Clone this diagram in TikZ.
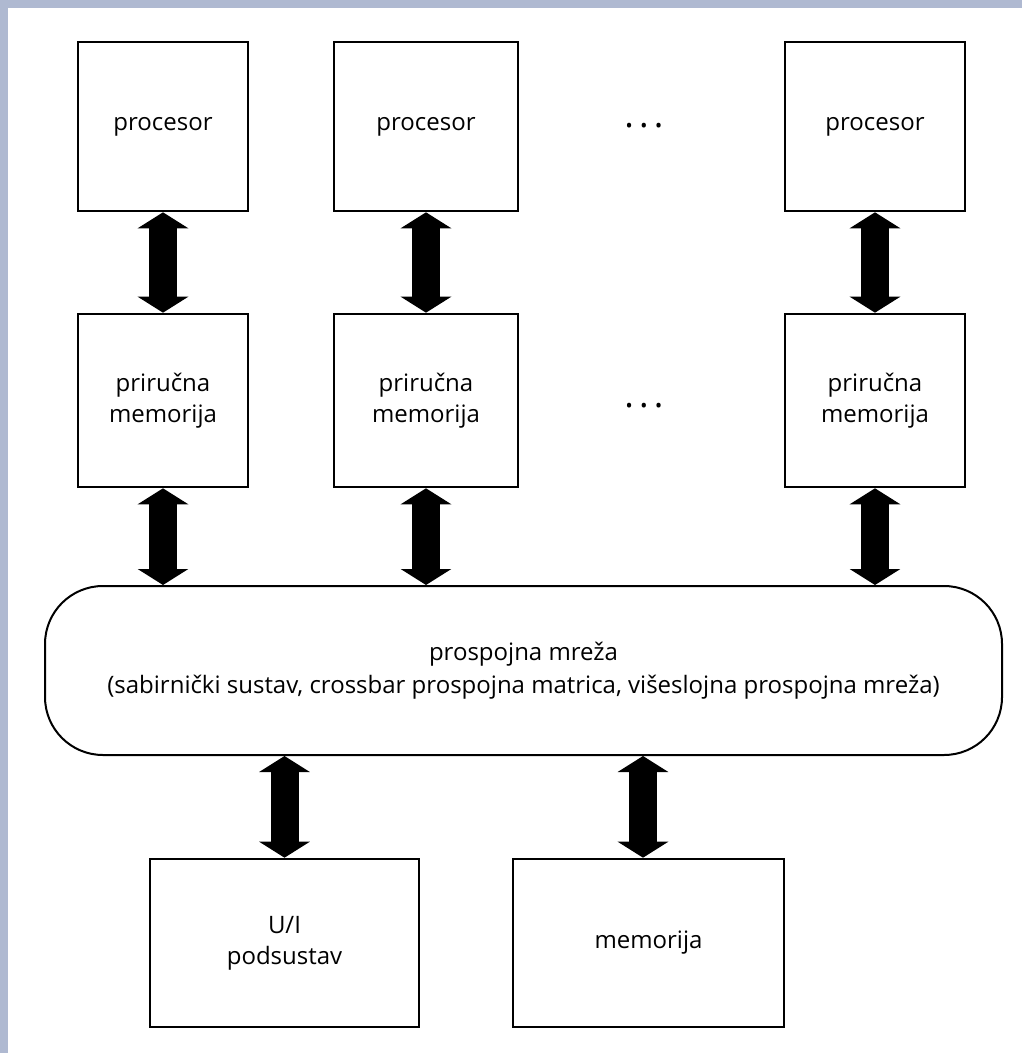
\documentclass[tikz,border=0pt]{standalone}
\usepackage{fontspec}
\setmainfont{Open Sans}
\usetikzlibrary{arrows.meta}
\definecolor{framebl}{RGB}{175,185,209}
\tikzset{
  blok/.style={draw,line width=1.3pt,minimum width=#1,inner sep=0pt,align=center},
  blok/.default=85pt,
  veza/.style={line width=14pt,{Triangle[width=25pt,length=8pt]}-{Triangle[width=25pt,length=8pt]}},
  tocke/.style={font=\fontsize{18pt}{18pt}\selectfont}
}
\begin{document}
\begin{tikzpicture}[x=0.5pt,y=-0.5pt,font=\fontsize{12pt}{15.5pt}\selectfont]
        \useasboundingbox (0,0) rectangle (1022,1053);
        \fill[framebl] (0,0) rectangle (8,1053);
        \fill[framebl] (0,0) rectangle (1022,8);
        \node[blok=85pt,minimum height=84.5pt] (p1) at (163,126.5) {procesor};
        \node[blok=92pt,minimum height=84.5pt] (p2) at (426,126.5) {procesor};
        \node[blok=90pt,minimum height=84.5pt] (p3) at (875,126.5) {procesor};
        \node[blok=85pt,minimum height=86.5pt] (c1) at (163,400.5) {priručna\\memorija};
        \node[blok=92pt,minimum height=86.5pt] (c2) at (426,400.5) {priručna\\memorija};
        \node[blok=90pt,minimum height=86.5pt] (c3) at (875,400.5) {priručna\\memorija};
        \node[tocke] (d1) at (644,126) {.\hspace{2.6pt}.\hspace{2.6pt}.};
        \node[tocke] (d2) at (644,406) {.\hspace{2.6pt}.\hspace{2.6pt}.};
        \node[draw,line width=1pt,rounded corners=29pt,minimum width=478.5pt,minimum height=84.5pt,align=center,font=\fontsize{12pt}{16.5pt}\selectfont] (bus) at (523.5,670.5) {prospojna mreža\\(sabirnički sustav, crossbar prospojna matrica, višeslojna prospojna mreža)};
        \node[blok=134.5pt,minimum height=84pt] (ui) at (284.5,943) {U/I\\podsustav};
        \node[blok=135.5pt,minimum height=84pt] (mem) at (648.5,943) {memorija};
        \foreach \i in {1,2,3} {
          \draw[veza] (p\i.south) -- (c\i.north);
          \draw[veza] (c\i.south) -- (c\i.south |- bus.north);
        }
        \draw[veza] (ui.north) -- (ui.north |- bus.south);
        \draw[veza] ([xshift=-2.75pt]mem.north) -- ([xshift=-2.75pt]mem.north |- bus.south);
\end{tikzpicture}
\end{document}
